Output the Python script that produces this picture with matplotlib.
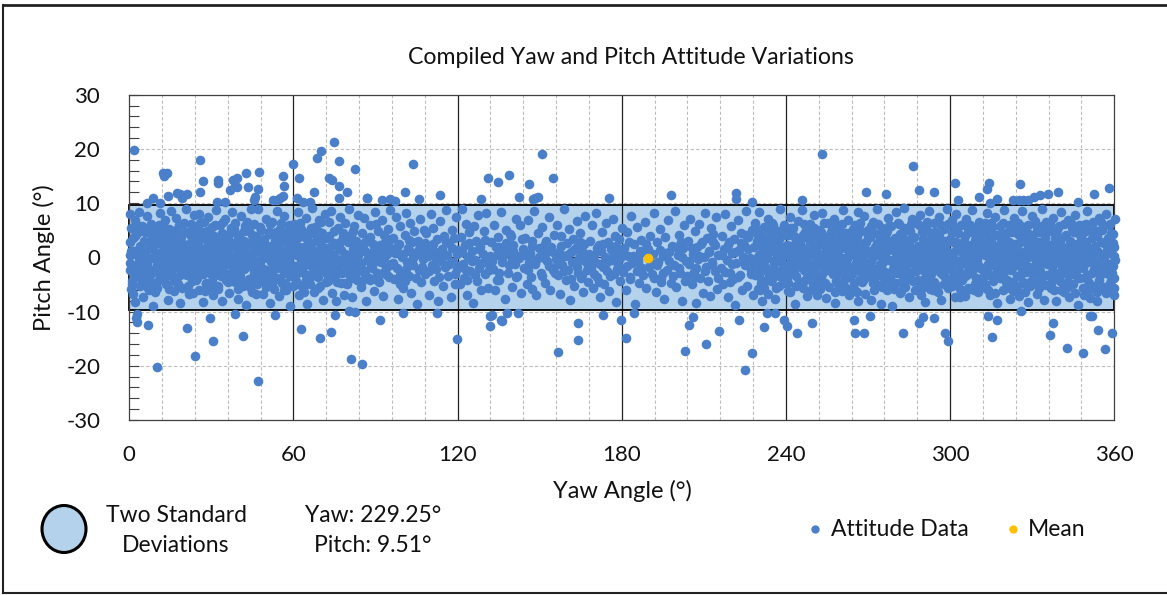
import matplotlib
matplotlib.use('Agg')
import matplotlib.pyplot as plt
from matplotlib.patches import Ellipse, Rectangle
from matplotlib.lines import Line2D

plt.rcParams['font.family'] = ['Lato', 'DejaVu Sans']
plt.rcParams['axes.unicode_minus'] = False

# ---------------- data ----------------
title = "Compiled Yaw and Pitch Attitude Variations"
x_label = "Yaw Angle (°)"
y_label = "Pitch Angle (°)"
yaw_ticks = [0, 60, 120, 180, 240, 300, 360]
yaw_minor = [12, 24, 36, 48, 72, 84, 96, 108, 132, 144, 156, 168, 192, 204, 216, 228,
             252, 264, 276, 288, 312, 324, 336, 348]
pitch_ticks = [-30, -20, -10, 0, 10, 20, 30]
pitch_minor = [-28, -26, -24, -22, -18, -16, -14, -12, -8, -6, -4, -2,
               2, 4, 6, 8, 12, 14, 16, 18, 22, 24, 26, 28]

mean_yaw = [189.7]
mean_pitch = [-0.1]
band_low = -9.8
band_high = 9.6
yaw_sd2 = "229.25"
pitch_sd2 = "9.51"

pts_000_060 = [
(0.2,8.0),(0.3,2.8),(0.1,0.4),(0.2,-2.4),(0.4,-1.0),(0.8,5.5),(1.0,-4.3),(1.3,3.6),(1.5,-6.8),(1.8,1.2),(2.0,-8.2),(2.2,6.9),(2.5,-1.8),(2.7,4.4),(3.0,-3.5),(3.2,0.3),(3.5,8.4),(3.8,-5.2),(4.0,2.1),(4.3,-0.7),(4.6,5.8),(4.9,-7.4),(5.1,-2.9),(5.4,3.1),(5.7,0.9),(6.0,-4.8),(6.3,7.6),(6.6,-1.2),(6.9,4.7),(7.2,-6.1),(7.5,1.8),(7.8,-3.0),(8.1,6.2),(8.4,-0.2),(8.7,-8.9),(9.0,3.9),(9.3,-2.2),(9.6,0.6),(9.9,5.1),(10.2,-5.6),(10.5,2.6),(10.8,-1.5),(11.1,8.1),(11.4,-3.9),(11.7,1.0),
(12.1,4.2),(12.4,-2.6),(12.7,0.2),(13.0,6.8),(13.3,-5.0),(13.6,2.9),(13.9,-0.9),(14.2,-7.8),(14.5,5.3),(14.8,1.4),(15.1,-3.3),(15.4,8.6),(15.7,-1.6),(16.0,3.5),(16.3,-6.2),(16.6,0.7),(16.9,7.3),(17.2,-4.1),(17.5,2.0),(17.8,-2.0),(18.1,5.9),(18.4,-8.5),(18.7,-0.4),(19.0,3.8),(19.3,-5.7),(19.6,1.1),(19.9,6.4),(20.2,-3.0),(20.5,0.0),(20.8,8.9),(21.1,-1.9),(21.4,4.6),(21.7,-6.8),(22.0,2.4),(22.3,-0.6),(22.6,6.1),(22.9,-4.4),(23.2,1.7),(23.5,-2.7),(23.8,7.9),(12.9,-1.1),(16.1,-0.2),(19.8,-1.3),(22.5,-1.6),(14.1,2.2),
(24.1,-1.4),(24.4,5.0),(24.7,-3.8),(25.0,2.3),(25.3,8.0),(25.6,-6.0),(25.9,0.5),(26.2,-2.1),(26.5,4.0),(26.8,-8.3),(27.1,1.6),(27.4,6.6),(27.7,-0.8),(28.0,-4.9),(28.3,3.0),(28.6,-2.5),(28.9,7.4),(29.2,0.1),(29.5,-5.4),(29.8,2.7),(30.1,-1.0),(30.4,5.6),(30.7,-7.0),(31.0,1.3),(31.3,-3.2),(31.6,8.7),(31.9,-0.3),(32.2,3.6),(32.5,-5.9),(32.8,0.9),(33.1,6.0),(33.4,-2.3),(33.7,4.5),(34.0,-8.0),(34.3,1.9),(34.6,-1.3),(34.9,7.0),(35.2,-4.2),(35.5,2.5),(35.8,-0.5),(24.8,0.8),(27.9,1.0),(30.9,-0.1),(33.8,0.4),(35.0,-2.8),
(36.1,3.3),(36.4,-6.5),(36.7,0.3),(37.0,5.4),(37.3,-2.8),(37.6,8.3),(37.9,-0.6),(38.2,2.2),(38.5,-4.6),(38.8,6.3),(39.1,-1.7),(39.4,0.8),(39.7,-7.6),(40.0,4.1),(40.3,-3.4),(40.6,1.5),(40.9,7.7),(41.2,-0.1),(41.5,-5.3),(41.8,3.0),(42.1,-2.2),(42.4,5.7),(42.7,-8.7),(43.0,0.6),(43.3,-1.1),(43.6,4.8),(43.9,-4.0),(44.2,2.6),(44.5,8.9),(44.8,-6.3),(45.1,1.0),(45.4,-2.4),(45.7,6.2),(46.0,-0.4),(46.3,3.9),(46.6,-5.0),(46.9,9.0),(47.2,-1.5),(47.5,2.0),(47.8,-3.6),(38.0,-2.9),(44.0,-0.9),
(48.1,5.1),(48.4,-1.9),(48.7,0.7),(49.0,-6.7),(49.3,3.4),(49.6,-3.1),(49.9,7.1),(50.2,1.2),(50.5,-4.5),(50.8,-0.2),(51.1,4.3),(51.4,-8.4),(51.7,2.1),(52.0,-2.6),(52.3,6.5),(52.6,0.0),(52.9,-5.8),(53.2,3.2),(53.5,-1.2),(53.8,8.5),(54.1,-3.9),(54.4,1.8),(54.7,-7.2),(55.0,5.3),(55.3,-0.7),(55.6,2.8),(55.9,-4.8),(56.2,0.4),(56.5,7.6),(56.8,-2.4),(57.1,4.0),(57.4,-6.0),(57.7,1.5),(58.0,-1.0),(58.3,5.9),(58.6,-3.5),(58.9,-8.9),(59.2,2.4),(59.5,0.9),(59.8,-5.2),
]

pts_060_120 = [
(60.1,6.1),(60.4,-1.6),(60.7,3.1),(61.0,-4.3),(61.3,0.5),(61.6,8.4),(61.9,-7.0),(62.2,2.0),(62.5,-2.2),(62.8,5.2),(63.1,-0.4),(63.4,-5.6),(63.7,3.9),(64.0,1.0),(64.3,-3.0),(64.6,7.3),(64.9,-8.6),(65.2,-1.3),(65.5,4.6),(65.8,0.2),(66.1,-4.9),(66.4,2.6),(66.7,9.1),(67.0,-2.7),(67.3,1.4),(67.6,-6.4),(67.9,5.6),(68.2,-0.9),(68.5,3.3),(68.8,-3.7),(69.1,0.8),(69.4,6.8),(69.7,-5.3),(70.0,2.2),(70.3,-1.8),(70.6,4.4),(70.9,-7.8),(71.2,0.1),(71.5,8.0),(71.8,-2.5),
(72.1,3.6),(72.4,-0.6),(72.7,-4.4),(73.0,6.6),(73.3,1.9),(73.6,-2.0),(73.9,8.6),(74.2,-6.6),(74.5,0.4),(74.8,4.9),(75.1,-3.3),(75.4,2.3),(75.7,-8.1),(76.0,-0.3),(76.3,5.4),(76.6,-1.4),(76.9,7.5),(77.2,-4.7),(77.5,1.3),(77.8,-2.9),(78.1,3.7),(78.4,-6.9),(78.7,0.6),(79.0,6.3),(79.3,-1.0),(79.6,-5.0),(79.9,2.8),(80.2,9.0),(80.5,-3.4),(80.8,0.0),(81.1,4.2),(81.4,-7.3),(81.7,1.6),(82.0,-2.1),(82.3,5.7),(82.6,-0.8),(82.9,3.1),(83.2,-4.2),(83.5,7.8),(83.8,-1.7),
(84.1,0.9),(84.5,-5.5),(84.9,4.5),(85.3,-2.3),(85.7,7.2),(86.1,1.1),(86.5,-8.0),(86.9,-0.5),(87.3,3.4),(87.7,-3.8),(88.1,6.0),(88.5,-1.6),(88.9,2.5),(89.3,-6.2),(89.7,8.3),(90.1,0.3),(90.5,-2.8),(90.9,4.9),(91.3,-4.6),(91.7,1.9),(92.1,-0.9),(92.5,6.8),(92.9,-7.2),(93.3,2.9),(93.7,-2.0),(94.1,0.6),(94.5,5.2),(94.9,-3.6),(95.3,8.8),(95.7,-1.2),(86.0,2.8),(88.0,-4.1),(90.2,6.2),(93.0,-0.2),(95.0,1.5),
(96.2,3.5),(96.6,-4.0),(97.0,0.8),(97.4,7.5),(97.8,-1.9),(98.2,-7.6),(98.6,2.4),(99.0,5.7),(99.4,-2.9),(99.8,0.1),(100.2,-5.7),(100.6,4.1),(101.0,8.2),(101.4,-0.8),(101.8,1.7),(102.2,-3.5),(102.6,6.4),(103.0,-6.5),(103.4,2.8),(103.8,-1.4),(104.2,4.8),(104.6,0.4),(105.0,-8.6),(105.4,3.0),(105.8,-2.4),(106.2,7.0),(106.6,-4.6),(107.0,1.2),(107.4,-0.3),(107.8,5.0),(99.0,-5.0),(103.0,0.9),
(108.2,-3.0),(108.6,4.4),(109.0,0.2),(109.4,-6.9),(109.8,2.0),(110.2,8.0),(110.6,-1.5),(111.0,5.5),(111.4,-4.3),(111.8,0.9),(112.2,-2.2),(112.6,3.4),(113.0,-8.0),(113.4,6.7),(113.8,-0.6),(114.2,1.6),(114.6,-5.2),(115.0,4.0),(115.4,-1.8),(115.8,8.7),(116.2,0.5),(116.6,-3.4),(117.0,2.6),(117.4,-7.4),(117.8,5.0),(118.2,-0.9),(118.6,3.6),(119.0,-4.9),(119.4,7.4),(119.8,-2.1),
]

pts_120_180 = [
(120.3,1.4),(120.7,-5.0),(121.1,3.7),(121.5,8.9),(121.9,-1.2),(122.3,-3.8),(122.7,2.3),(123.1,6.2),(123.5,-6.9),(123.9,0.0),(124.3,4.6),(124.7,-2.6),(125.1,1.1),(125.5,-8.5),(125.9,5.8),(126.3,-0.4),(126.7,3.0),(127.1,-4.4),(127.5,7.8),(127.9,-1.9),(128.3,2.0),(128.7,-6.1),(129.1,0.7),(129.5,4.9),(129.9,-3.1),(130.3,8.1),(130.7,-0.8),(131.1,-5.6),
(132.3,2.8),(132.8,-2.2),(133.3,6.0),(133.8,-6.0),(134.3,0.5),(134.8,3.7),(135.3,-4.1),(135.8,8.4),(136.3,-0.9),(136.8,1.8),(137.3,-7.7),(137.8,5.0),(138.3,-2.8),(138.8,0.9),(139.3,4.3),(139.8,-5.4),(140.3,2.2),(140.8,-1.3),(141.3,7.1),(141.8,-3.4),(142.3,0.2),(142.8,5.9),(143.3,-6.6),(143.8,1.5),(135.0,2.0),(140.0,-0.5),
(144.3,-2.0),(144.8,3.6),(145.3,-5.0),(145.8,6.8),(146.3,0.8),(146.8,-3.7),(147.3,2.1),(147.8,8.6),(148.3,-1.2),(148.8,-7.0),(149.3,4.5),(149.8,0.0),(150.3,-2.9),(150.8,5.6),(151.3,1.3),(151.8,-4.8),(152.3,3.0),(152.8,-0.7),(153.3,7.4),(153.8,-6.1),(154.3,1.9),(154.8,-2.4),(155.3,4.1),(155.8,-0.3),(147.0,-5.8),(152.0,0.6),
(156.3,6.0),(156.7,-3.2),(157.1,1.0),(157.5,-6.8),(157.9,3.9),(158.3,-1.5),(158.7,8.9),(159.1,0.3),(159.5,-4.2),(159.9,2.6),(160.3,-2.3),(160.7,5.3),(161.1,-7.9),(161.5,0.9),(161.9,-0.9),(162.3,3.4),(162.7,-5.2),(163.1,1.8),(163.5,6.7),(163.9,-2.8),(164.3,-0.2),(164.7,4.5),(165.1,-3.9),(165.5,1.2),(165.9,-6.4),(166.3,2.4),(166.7,7.6),(167.1,-1.1),(167.5,-4.6),(167.9,0.6),
(168.3,3.1),(168.7,-2.0),(169.1,5.9),(169.5,-5.6),(169.9,0.4),(170.3,-0.8),(170.7,8.2),(171.1,-3.6),(171.5,2.2),(171.9,-7.4),(172.3,1.1),(172.7,4.6),(173.1,-1.7),(173.5,-4.9),(173.9,0.0),(174.3,6.4),(174.7,-2.6),(175.1,2.9),(175.5,-6.2),(175.9,1.6),(176.3,-0.5),(176.7,7.0),(177.1,-3.1),(177.5,4.0),(177.9,-8.3),(178.3,0.8),(178.7,-1.4),(179.1,3.3),(179.5,-4.3),(179.9,5.4),
]

pts_180_240 = [
(180.4,-2.7),(180.9,1.8),(181.4,-6.0),(181.9,4.7),(182.4,0.2),(182.9,-3.6),(183.4,7.7),(183.9,-1.0),(184.4,2.5),(184.9,-8.6),(185.4,5.6),(185.9,-0.3),(186.4,-4.8),(186.9,3.2),(187.4,-2.0),(187.9,0.9),(188.4,6.6),(188.9,-5.6),(189.4,1.5),(189.9,-1.7),(190.4,4.0),(190.9,-3.0),(191.4,0.6),(191.9,8.1),
(192.4,-6.3),(192.9,2.8),(193.4,-0.9),(193.9,5.3),(194.4,-3.9),(194.9,0.2),(195.4,-7.7),(195.9,3.8),(196.4,-2.3),(196.9,6.9),(197.4,1.0),(197.9,-4.7),(198.4,2.1),(198.9,-1.4),(199.4,8.6),(199.9,-5.4),(200.4,0.5),(200.9,4.2),(201.4,-2.9),(201.9,-8.1),(202.4,1.7),(202.9,6.0),(203.4,-0.6),(203.9,-3.4),
(204.3,3.0),(204.7,-1.2),(205.1,7.0),(205.5,-5.0),(205.9,0.7),(206.3,-2.7),(206.7,4.9),(207.1,-8.4),(207.5,1.9),(207.9,-0.3),(208.3,6.2),(208.7,-3.8),(209.1,2.4),(209.5,-6.6),(209.9,0.0),(210.3,8.2),(210.7,-1.8),(211.1,3.6),(211.5,-4.4),(211.9,1.2),(212.3,-7.2),(212.7,5.5),(213.1,-0.9),(213.5,2.8),(213.9,-2.5),(214.3,7.5),(214.7,-5.8),(215.1,0.4),
(216.3,-1.9),(216.7,4.0),(217.1,-4.9),(217.5,1.6),(217.9,8.0),(218.3,-0.5),(218.7,-7.3),(219.1,2.9),(219.5,-2.8),(219.9,5.7),(220.3,0.8),(220.7,-4.0),(221.1,3.3),(221.5,-8.8),(221.9,-1.1),(222.3,6.8),(222.7,1.4),(223.1,-3.2),(223.5,4.4),(223.9,-6.0),(224.3,0.1),(224.7,2.2),(225.1,-1.5),(225.5,8.6),(225.9,-5.2),(226.3,3.7),(226.7,-0.2),(227.1,-2.4),(227.5,5.1),(227.9,-7.0),
(228.2,1.9),(228.5,-3.3),(228.8,6.3),(229.1,-0.7),(229.4,3.0),(229.7,-5.9),(230.0,0.5),(230.3,8.4),(230.6,-2.1),(230.9,4.3),(231.2,-8.1),(231.5,1.2),(231.8,-1.4),(232.1,5.6),(232.4,-4.4),(232.7,2.6),(233.0,-0.1),(233.3,7.1),(233.6,-6.8),(233.9,0.9),(234.2,-2.6),(234.5,3.9),(234.8,-4.0),(235.1,1.5),(235.4,6.0),(235.7,-1.0),(236.0,-7.6),(236.3,2.9),(236.6,-3.2),(236.9,0.3),(237.2,4.8),(237.5,-5.3),(237.8,9.0),(238.1,-0.9),(238.4,2.0),(238.7,-2.3),(239.0,5.2),(239.6,-4.8),
]

pts_240_300 = [
(240.1,0.6),(240.4,-3.9),(240.7,4.1),(241.0,-1.2),(241.3,7.4),(241.6,-6.4),(241.9,2.1),(242.2,-0.2),(242.5,5.4),(242.8,-2.8),(243.1,1.3),(243.4,-8.6),(243.7,3.2),(244.0,-1.8),(244.3,6.7),(244.6,0.1),(244.9,-4.6),(245.2,2.6),(245.5,-0.9),(245.8,8.7),(246.1,-5.6),(246.4,1.8),(246.7,-2.3),(247.0,4.6),(247.3,-0.5),(247.6,-7.1),(247.9,3.5),(248.2,0.9),(248.5,-3.4),(248.8,6.1),(249.1,-1.5),(249.4,2.3),(249.7,-5.0),(250.0,0.4),(250.3,7.9),(250.6,-2.0),(250.9,3.9),(251.2,-6.9),(251.5,1.0),(251.8,-0.6),(243.0,-0.4),(246.0,0.8),
(252.1,5.0),(252.4,-1.1),(252.7,2.4),(253.0,-4.3),(253.3,8.1),(253.6,0.3),(253.9,-2.6),(254.2,3.8),(254.5,-7.5),(254.8,1.4),(255.1,-0.4),(255.4,6.3),(255.7,-5.4),(256.0,2.0),(256.3,-1.9),(256.6,4.7),(256.9,0.7),(257.2,-3.1),(257.5,7.0),(257.8,-8.5),(258.1,1.1),(258.4,-0.8),(258.7,3.5),(259.0,-4.9),(259.3,5.9),(259.6,0.0),(259.9,-2.2),(260.2,2.9),(260.5,-6.2),(260.8,8.8),(261.1,-1.3),(261.4,1.7),(261.7,-3.6),(262.0,4.4),(262.3,-0.3),(262.6,6.8),(262.9,-7.0),(263.2,2.5),(263.5,-1.7),(263.8,0.9),(253.5,-1.5),(256.5,-0.3),(259.5,1.6),(262.5,-2.9),(255.0,2.9),
(264.1,-3.0),(264.4,3.1),(264.7,0.4),(265.0,-5.9),(265.3,6.0),(265.6,-1.0),(265.9,2.3),(266.2,-8.0),(266.5,8.3),(266.8,0.0),(267.1,-2.5),(267.4,4.9),(267.7,-4.6),(268.0,1.5),(268.3,-0.6),(268.6,7.6),(268.9,-6.7),(269.2,2.8),(269.5,-1.6),(269.8,5.0),(270.1,0.8),(270.4,-3.5),(270.7,3.7),(271.0,-7.8),(271.3,1.0),(271.6,-0.2),(271.9,6.6),(272.2,-4.0),(272.5,2.0),(272.8,-2.1),(273.1,8.9),(273.4,0.5),(273.7,-5.1),(274.0,4.2),(274.3,-1.3),(274.6,1.9),(274.9,-8.6),(275.2,5.5),(275.5,-0.8),(275.8,3.0),(265.5,1.2),(268.5,-2.0),(271.5,0.2),(274.5,-3.2),(267.0,-0.9),
(276.1,-2.7),(276.4,4.5),(276.7,0.9),(277.0,-6.1),(277.3,7.2),(277.6,-0.5),(277.9,2.4),(278.2,-3.9),(278.5,5.8),(278.8,-8.9),(279.1,1.3),(279.4,-1.6),(279.7,3.5),(280.0,-4.8),(280.3,8.4),(280.6,0.2),(280.9,-2.3),(281.2,6.1),(281.5,-6.5),(281.8,1.8),(282.1,-0.9),(282.4,4.0),(282.7,-3.3),(283.0,2.7),(283.3,9.1),(283.6,-5.5),(283.9,0.6),(284.2,-1.1),(284.5,5.1),(284.8,-7.4),(285.1,3.2),(285.4,-0.1),(285.7,-2.9),(286.0,7.0),(286.3,1.5),(286.6,-4.4),(286.9,3.8),(287.2,-1.9),(287.5,0.4),(287.8,6.4),(277.5,1.7),(280.5,-0.7),(283.5,-2.0),(286.5,0.8),(279.0,2.9),
(288.1,-4.2),(288.4,2.1),(288.7,-0.4),(289.0,7.8),(289.3,-6.9),(289.6,1.1),(289.9,4.6),(290.2,-2.4),(290.5,0.3),(290.8,-8.2),(291.1,5.7),(291.4,-1.2),(291.7,2.9),(292.0,-4.6),(292.3,8.6),(292.6,0.9),(292.9,-3.0),(293.2,3.6),(293.5,-0.8),(293.8,-6.0),(294.1,6.3),(294.4,1.7),(294.7,-1.8),(295.0,4.2),(295.3,-5.2),(295.6,0.0),(295.9,7.4),(296.2,-2.7),(296.5,2.4),(296.8,-7.8),(297.1,1.0),(297.4,-0.6),(297.7,5.3),(298.0,-3.7),(298.3,3.1),(298.6,-1.4),(298.9,8.9),(299.2,-5.7),(299.5,0.6),(299.8,-2.1),(289.5,-1.9),(292.5,-0.1),(295.5,2.9),(298.5,1.4),(291.0,1.6),
]

pts_300_360 = [
(300.1,3.4),(300.4,-1.5),(300.7,6.9),(301.0,0.2),(301.3,-3.4),(301.6,2.6),(301.9,-7.3),(302.2,8.0),(302.5,-0.7),(302.8,4.4),(303.1,-2.6),(303.4,1.3),(303.7,-7.3),(304.0,5.9),(304.3,-4.1),(304.6,0.7),(304.9,3.0),(305.2,-1.1),(305.5,-7.2),(305.8,7.1),(306.1,1.9),(306.4,-3.1),(306.7,4.8),(307.0,-0.2),(307.3,-5.8),(307.6,2.2),(307.9,8.7),(308.2,-2.0),(308.5,0.5),(308.8,5.4),(309.1,-4.9),(309.4,1.4),(309.7,-0.9),(310.0,3.8),(310.3,-6.4),(310.6,6.6),(310.9,-1.7),(311.2,0.9),(311.5,-3.8),(311.8,2.9),(301.5,0.9),(304.5,-1.0),(307.5,-0.5),(310.5,1.6),(303.0,-3.9),
(312.1,-2.4),(312.4,5.1),(312.7,0.4),(313.0,-5.6),(313.3,8.2),(313.6,1.8),(313.9,-1.3),(314.2,3.4),(314.5,-7.0),(314.8,6.3),(315.1,-0.3),(315.4,2.5),(315.7,-4.3),(316.0,0.9),(316.3,7.5),(316.6,-2.9),(316.9,4.1),(317.2,-8.5),(317.5,1.2),(317.8,-1.0),(318.1,5.7),(318.4,-3.8),(318.7,2.8),(319.0,0.0),(319.3,-6.1),(319.6,8.8),(319.9,-1.8),(320.2,3.7),(320.5,-4.5),(320.8,1.5),(321.1,-0.6),(321.4,6.0),(321.7,-7.6),(322.0,2.2),(322.3,-2.3),(322.6,4.6),(322.9,0.6),(323.2,-5.0),(323.5,7.2),(323.8,-1.4),(313.5,-1.9),(316.5,0.2),(319.5,2.0),(322.5,-0.8),(315.0,-3.3),
(324.1,2.0),(324.4,-3.5),(324.7,6.4),(325.0,0.6),(325.3,-7.1),(325.6,3.9),(325.9,-1.2),(326.2,8.5),(326.5,-4.6),(326.8,1.0),(327.1,-0.5),(327.4,5.2),(327.7,-2.7),(328.0,2.7),(328.3,-8.3),(328.6,0.1),(328.9,4.3),(329.2,-5.3),(329.5,1.6),(329.8,7.7),(330.1,-1.9),(330.4,3.3),(330.7,-3.0),(331.0,-0.2),(331.3,5.9),(331.6,-6.7),(331.9,1.2),(332.2,-2.1),(332.5,4.7),(332.8,0.5),(333.1,-4.2),(333.4,8.9),(333.7,2.4),(334.0,-1.1),(334.3,-7.8),(334.6,3.6),(334.9,-0.7),(335.2,6.5),(335.5,-3.3),(335.8,1.9),(325.5,-1.6),(328.5,2.0),(331.5,-0.8),(334.5,0.8),(327.0,-2.1),
(336.1,-0.2),(336.4,4.9),(336.7,-5.7),(337.0,2.2),(337.3,-1.6),(337.6,7.3),(337.9,0.9),(338.2,-3.6),(338.5,3.5),(338.8,-8.0),(339.1,1.4),(339.4,-0.9),(339.7,5.8),(340.0,-4.4),(340.3,2.6),(340.6,8.3),(340.9,-2.2),(341.2,0.3),(341.5,-6.3),(341.8,4.0),(342.1,-1.0),(342.4,1.8),(342.7,-3.1),(343.0,6.8),(343.3,-7.3),(343.6,0.7),(343.9,3.0),(344.2,-1.7),(344.5,5.4),(344.8,-5.0),(345.1,1.1),(345.4,-0.4),(345.7,7.9),(346.0,-2.6),(346.3,2.4),(346.6,-8.8),(346.9,4.5),(347.2,0.0),(347.5,-3.9),(347.8,1.6),(337.5,-2.5),(340.5,-0.6),(343.5,2.0),(346.5,-1.2),(339.0,0.4),
(348.1,3.2),(348.4,-2.0),(348.7,6.0),(349.0,-6.9),(349.3,0.6),(349.6,2.9),(349.9,-4.0),(350.2,8.6),(350.5,-0.9),(350.8,1.7),(351.1,-7.5),(351.4,4.8),(351.7,-2.8),(352.0,0.2),(352.3,6.6),(352.6,-5.2),(352.9,2.1),(353.2,-1.4),(353.5,3.9),(353.8,-8.1),(354.1,1.0),(354.4,7.2),(354.7,-3.3),(355.0,0.4),(355.3,-5.9),(355.6,5.0),(355.9,-0.6),(356.2,2.6),(356.5,-2.4),(356.8,8.0),(357.1,-6.6),(357.4,1.3),(357.7,3.5),(358.0,-1.2),(358.3,-4.7),(358.6,6.2),(358.9,0.8),(359.2,-2.9),(359.5,4.3),(359.8,-7.0),(360.0,1.9),(360.1,-0.5),(360.2,7.0),(360.0,-3.8),(359.9,-5.6),
]

core_000_090 = [
(0.5,1.2),(1.2,-2.9),(2.1,3.9),(3.4,-0.8),(4.1,1.8),(5.0,-3.8),(5.8,4.6),(6.5,-1.9),(7.3,2.9),(8.0,-4.5),(8.9,0.2),(9.7,-2.6),(10.6,3.3),(11.3,-0.9),(0.9,-4.9),(1.9,0.8),(3.9,4.8),(4.7,-2.1),(6.2,0.0),(7.1,-3.4),(8.6,1.9),(9.3,4.1),(10.1,-1.4),(11.0,-4.2),(11.8,2.4),
(12.3,0.9),(13.2,-3.7),(14.0,4.2),(14.9,-1.0),(15.6,2.6),(16.5,-4.4),(17.3,0.4),(18.0,3.1),(18.9,-2.4),(19.5,-0.5),(20.3,4.7),(21.2,-3.2),(22.1,1.5),(22.8,-0.1),(23.6,3.6),(12.8,-1.9),(13.9,2.1),(15.2,-2.7),(16.8,1.8),(17.9,-4.9),(19.2,2.6),(20.9,-1.4),(21.8,0.7),(23.1,-4.1),(23.9,-2.2),
(24.6,2.0),(25.4,-0.6),(26.3,3.5),(27.0,-3.1),(27.9,-1.5),(28.7,1.2),(29.6,4.3),(30.3,-4.3),(31.2,2.4),(32.0,-2.0),(32.9,0.3),(33.6,-3.5),(34.5,3.0),(35.3,1.1),(35.9,-4.6),(24.3,-4.2),(25.8,4.9),(26.7,0.9),(28.2,-4.8),(29.9,-1.8),(30.8,3.9),(31.7,-0.7),(33.2,1.9),(34.1,-1.6),(35.6,4.0),
(36.3,-1.3),(37.2,2.7),(38.1,-3.9),(38.9,0.5),(39.8,3.6),(40.4,-2.0),(41.3,1.0),(42.2,-4.7),(43.1,2.3),(43.8,-0.3),(44.7,4.1),(45.6,-2.9),(46.4,1.6),(47.3,-1.0),(47.9,3.2),(36.8,4.4),(37.8,-2.5),(39.3,-4.6),(40.8,2.9),(42.6,-1.7),(44.3,0.1),(45.2,-4.0),(46.8,-3.3),(47.6,0.9),(41.9,4.9),
(48.3,-0.4),(49.2,2.9),(50.0,-2.3),(50.9,4.6),(51.6,-3.6),(52.5,1.4),(53.3,-1.6),(54.2,3.3),(55.1,-4.2),(55.8,0.8),(56.7,-2.9),(57.5,2.6),(58.4,-0.2),(59.3,4.2),(59.9,-3.0),(48.8,-4.4),(50.4,0.5),(51.9,-0.9),(53.7,4.7),(54.9,-2.0),(56.0,3.9),(57.0,-4.8),(58.1,1.9),(59.0,-1.4),(52.2,-4.9),
(60.3,0.7),(61.2,-2.8),(62.0,3.8),(62.9,-0.6),(63.8,2.0),(64.5,-4.1),(65.3,1.2),(66.2,-1.5),(67.1,4.4),(67.8,-3.3),(68.6,0.3),(69.5,2.8),(70.3,-2.4),(71.0,1.7),(71.9,-4.6),(60.8,4.7),(61.7,-4.9),(63.3,-2.2),(64.9,3.3),(66.6,-0.2),(68.0,-1.8),(69.0,4.9),(70.6,-0.8),(71.4,3.6),(65.9,-3.7),
(72.3,-3.0),(73.2,0.8),(74.0,-1.2),(74.9,2.7),(75.8,-4.5),(76.5,1.5),(77.4,-0.4),(78.2,4.4),(79.1,-2.6),(79.8,0.2),(80.7,3.2),(81.5,-3.9),(82.4,1.0),(83.1,-1.6),(83.9,2.3),(72.9,4.0),(74.4,-3.6),(75.2,-1.9),(77.0,2.9),(78.8,-4.8),(80.1,-1.1),(81.9,4.8),(82.8,-2.9),(83.5,0.5),(76.2,-2.7),
(84.6,-1.1),(85.5,2.2),(86.3,-3.1),(87.1,0.6),(88.0,3.7),(88.7,-2.0),(89.4,1.4),(85.0,-4.3),(87.8,-0.4),(89.9,-4.0),
]

core_090_228 = [
(90.6,-0.6),(91.5,2.3),(92.8,-2.9),(93.9,1.0),(95.2,-1.5),(95.8,3.4),(91.0,-4.1),(92.2,0.4),(94.3,-3.3),(94.8,2.0),(93.2,4.2),(90.9,1.6),
(96.5,-1.1),(97.7,2.0),(98.9,-3.3),(100.0,0.7),(101.1,-2.2),(102.4,3.2),(103.6,-0.2),(104.9,-3.9),(106.0,1.5),(107.1,-1.8),(107.9,2.6),(100.7,-4.4),
(108.5,0.9),(109.7,-2.6),(110.9,2.4),(112.0,-0.4),(113.2,-3.7),(114.4,0.3),(115.6,2.9),(116.8,-1.2),(117.9,1.8),(118.9,-3.0),(119.6,0.6),(111.3,-1.9),
(120.5,-1.6),(121.7,0.9),(122.9,-2.4),(124.1,2.7),(125.3,-0.7),(126.5,-3.2),(127.7,1.6),(128.9,-1.1),(130.1,3.2),(131.3,-2.3),(131.8,0.2),(123.3,-4.1),
(132.6,-0.6),(133.9,1.9),(135.1,-2.8),(136.5,0.3),(137.6,2.7),(138.9,-1.5),(140.1,1.1),(141.2,-3.7),(142.5,-0.2),(143.6,3.3),(134.5,-4.2),(139.5,3.9),
(144.6,0.4),(145.9,-2.3),(147.1,3.1),(148.5,-0.5),(149.6,1.8),(150.9,-3.4),(152.1,2.5),(153.5,-1.6),(154.7,0.9),(155.5,-2.9),(146.2,-0.9),(151.6,-0.1),
(156.5,-1.3),(157.7,2.1),(159.0,-2.6),(160.1,0.5),(161.3,-4.0),(162.5,1.4),(163.7,-1.8),(164.9,2.8),(166.0,-0.5),(167.2,-2.4),(158.2,0.1),(165.6,-3.3),
(168.5,-0.2),(169.7,-3.1),(170.9,1.8),(172.1,-1.2),(173.3,2.5),(174.5,-0.8),(175.7,-3.5),(176.9,1.0),(178.1,-2.2),(179.3,-0.1),(171.5,-4.5),(177.7,2.1),
(180.7,0.7),(181.9,-1.6),(183.1,-4.0),(184.2,0.3),(185.5,-2.5),(186.6,1.1),(187.8,-3.3),(188.9,2.4),(190.5,-1.0),(191.6,-3.9),(182.6,2.9),(186.1,-0.9),
(192.7,-1.5),(193.8,1.4),(195.0,-2.9),(196.2,0.8),(197.3,-0.6),(198.6,-3.5),(199.7,1.9),(200.8,-1.9),(202.0,0.0),(203.2,-4.4),(194.4,-4.6),(201.5,2.9),
(204.5,-0.7),(205.7,1.8),(206.9,-3.6),(208.1,0.2),(209.3,2.9),(210.5,-2.6),(211.7,0.9),(212.9,-1.3),(214.1,2.2),(215.3,-3.9),(207.2,-1.9),(213.3,4.3),
(216.5,0.5),(217.7,-2.7),(218.9,2.3),(220.1,-1.2),(221.3,1.0),(222.5,-3.7),(223.7,2.7),(224.9,-0.9),(226.1,1.6),(227.3,-3.0),(219.5,-4.5),(225.3,4.1),
]

core_228_360 = [
(228.4,-1.0),(229.3,2.3),(230.1,-3.4),(231.0,0.7),(231.9,3.6),(232.8,-1.9),(233.5,1.5),(234.4,-4.3),(235.3,2.7),(236.1,-0.4),(237.0,-2.8),(237.9,1.0),(238.8,4.1),(239.4,-1.7),(239.9,0.4),(228.9,4.4),(230.7,-4.8),(232.3,-0.3),(234.0,4.8),(235.8,-2.1),(236.8,1.8),(238.3,-3.6),(229.8,0.1),(233.2,-2.6),(237.4,3.3),
(240.3,2.2),(241.2,-2.6),(242.0,0.6),(242.9,3.9),(243.8,-3.4),(244.5,1.4),(245.4,-1.3),(246.3,4.2),(247.1,-4.1),(248.0,-0.2),(248.9,2.8),(249.8,-2.4),(250.5,1.3),(251.4,-0.9),(251.9,3.4),(240.9,-4.7),(242.4,-1.5),(244.1,2.9),(245.9,-4.9),(247.6,1.0),(249.3,4.8),(250.9,-3.7),(243.3,0.3),(246.8,-2.0),(251.1,4.6),
(252.3,0.3),(253.2,-3.0),(254.1,2.6),(254.9,-1.0),(255.8,4.0),(256.7,-2.6),(257.6,0.8),(258.3,-4.4),(259.2,2.2),(260.0,-0.6),(260.9,3.5),(261.8,-2.0),(262.7,1.3),(263.4,-3.6),(263.9,4.6),(252.8,4.6),(254.4,-4.8),(256.2,1.6),(257.9,-1.4),(259.8,4.8),(261.3,-4.1),(262.2,0.0),(255.4,-0.2),(258.9,-2.9),(263.0,2.7),
(264.3,1.5),(265.2,-1.8),(266.1,3.8),(266.9,-4.0),(267.8,0.4),(268.7,2.6),(269.5,-2.9),(270.3,1.1),(271.2,-0.7),(272.1,4.4),(273.0,-3.4),(273.8,0.9),(274.7,-1.6),(275.5,2.8),(275.9,-4.6),(264.8,-4.8),(266.5,-0.1),(268.2,-2.2),(269.9,4.0),(271.8,-4.8),(273.3,2.6),(274.9,0.2),(267.3,2.0),(270.8,-1.2),(272.6,-2.3),
(276.3,0.9),(277.1,-3.5),(278.0,3.0),(278.9,-0.7),(279.8,1.7),(280.7,-2.9),(281.5,4.3),(282.4,-1.5),(283.3,0.4),(284.0,-4.1),(284.9,2.5),(285.8,-0.4),(286.6,3.6),(287.4,-2.5),(287.9,1.2),(276.8,4.9),(278.5,-4.9),(280.2,0.0),(282.0,2.6),(283.7,-2.7),(285.3,4.8),(286.9,-1.4),(279.3,-2.1),(281.9,-4.6),(284.6,1.1),
(288.3,1.6),(289.2,-1.3),(290.1,3.4),(290.9,-3.9),(291.8,0.2),(292.7,2.4),(293.6,-2.2),(294.3,0.9),(295.2,-0.5),(296.1,4.1),(296.9,-3.1),(297.8,1.3),(298.7,-1.7),(299.4,2.9),(299.9,-4.3),(288.9,-4.8),(290.6,-0.6),(292.2,4.6),(294.0,-4.5),(295.7,1.8),(297.4,-2.3),(298.9,0.1),(291.3,2.1),(293.9,3.7),(296.5,-0.9),
(300.3,0.5),(301.2,-2.3),(302.1,2.9),(302.9,-0.8),(303.8,1.6),(304.7,-3.0),(305.6,3.9),(306.3,-1.4),(307.2,0.7),(308.1,-2.6),(309.0,3.2),(309.8,-0.3),(310.7,1.9),(311.4,-4.2),(311.9,4.4),(300.8,4.5),(302.6,-4.4),(304.2,-0.5),(305.9,1.2),(307.8,4.7),(309.3,-3.9),(310.9,-1.9),(303.3,2.4),(306.8,-2.0),(308.6,0.2),
(312.3,1.4),(313.2,-3.3),(314.0,0.2),(314.9,2.8),(315.8,-1.5),(316.7,4.2),(317.6,-2.6),(318.3,0.6),(319.2,-0.9),(320.1,3.3),(320.9,-4.2),(321.8,1.1),(322.7,-2.0),(323.4,2.4),(323.9,-0.5),(312.8,-4.9),(314.4,4.7),(316.1,-3.9),(317.9,2.0),(319.6,-2.7),(321.2,4.6),(322.2,-4.6),(315.5,1.0),(318.8,4.4),(320.6,-0.2),
(324.3,-0.8),(325.2,2.6),(326.0,-3.1),(326.9,0.3),(327.8,3.8),(328.7,-1.8),(329.6,1.4),(330.3,-4.5),(331.2,2.3),(332.1,-0.1),(333.0,-2.6),(333.8,1.8),(334.7,4.4),(335.5,-1.3),(335.9,0.9),(324.8,4.3),(326.5,-4.8),(328.2,0.5),(329.9,-2.9),(331.8,4.8),(333.3,-4.2),(334.9,2.7),(327.3,-1.0),(330.8,0.0),(332.6,2.9),
(336.3,2.1),(337.2,-2.7),(338.1,0.6),(338.9,3.9),(339.8,-3.7),(340.7,1.2),(341.6,-1.2),(342.3,4.1),(343.2,-4.5),(344.1,0.0),(344.9,2.4),(345.8,-2.1),(346.7,1.4),(347.4,-0.8),(347.9,3.4),(336.8,-4.7),(338.5,-1.1),(340.2,2.7),(341.9,-4.9),(343.7,1.8),(345.3,4.6),(346.9,-3.8),(339.3,0.2),(342.8,-0.6),(344.6,-3.0),
(348.3,-1.1),(349.2,2.2),(350.1,-3.2),(350.9,0.4),(351.8,3.6),(352.7,-2.2),(353.6,1.2),(354.3,-4.1),(355.2,2.8),(356.1,-0.3),(356.9,-2.9),(357.8,1.6),(358.7,4.5),(359.4,-1.6),(359.9,0.2),(348.8,4.6),(350.6,-4.8),(352.2,-0.5),(353.9,4.9),(355.7,-2.1),(357.3,0.8),(358.9,-3.7),(349.7,0.9),(354.8,-0.8),(357.6,3.0),
]

shoulder_dense = [
(0.6,-5.8),(2.4,6.1),(3.7,-1.4),(5.3,5.2),(6.8,-5.6),(8.3,3.5),(9.5,-6.4),(10.8,6.0),(11.5,-0.2),(4.4,-4.0),
(12.6,5.6),(14.4,-5.9),(15.9,0.1),(17.0,5.1),(18.6,-3.3),(20.0,1.9),(21.5,-5.3),(22.7,3.9),(23.4,-6.6),(16.2,-1.2),
(24.9,-2.5),(26.0,6.3),(27.5,-6.2),(29.0,2.0),(30.0,-3.0),(31.5,5.9),(32.6,-5.2),(34.2,6.5),(35.4,-3.1),(28.5,4.9),
(36.5,1.7),(38.4,5.3),(39.9,-5.8),(41.0,-0.6),(42.9,6.6),(44.0,-5.5),(45.0,3.0),(46.2,-6.8),(47.7,5.6),(40.2,0.2),
(48.6,2.3),(49.8,-5.4),(51.3,6.1),(52.8,-2.1),(54.0,0.3),(55.4,6.3),(56.4,-6.1),(57.9,4.8),(59.5,-2.6),(53.0,-4.0),
(60.6,-3.5),(62.3,6.4),(63.9,-6.3),(65.0,-0.4),(66.3,5.5),(67.5,1.2),(68.9,-5.7),(70.2,6.6),(71.6,-1.2),(62.6,1.1),
(228.6,5.4),(230.4,-6.1),(231.7,2.4),(233.8,-3.2),(235.0,6.3),(236.4,-5.7),(237.7,0.6),(239.2,6.0),(239.8,-3.2),(232.0,-5.6),
(240.6,-6.2),(241.8,5.5),(243.5,-5.3),(244.8,0.7),(246.5,6.2),(247.8,-2.9),(249.0,-6.0),(250.2,5.5),(251.6,-4.9),(245.1,3.6),
(252.5,-5.8),(253.8,6.3),(255.2,-2.4),(256.8,5.6),(258.0,-6.3),(259.4,-0.9),(260.6,6.1),(261.9,-5.6),(263.3,3.3),(257.1,2.4),
(264.5,5.3),(265.8,-6.4),(267.2,6.4),(268.4,-4.0),(269.6,0.9),(271.1,5.8),(272.3,-6.0),(273.6,6.2),(275.1,-5.4),(270.0,-3.0),
(276.5,-5.6),(277.8,5.7),(279.5,-5.8),(280.8,6.4),(282.2,-6.2),(283.1,5.4),(284.4,-3.4),(285.6,6.2),(287.0,-6.0),(281.0,-1.0),
(288.5,5.9),(289.8,-5.6),(291.5,6.5),(292.8,-5.9),(294.6,4.6),(295.4,-6.4),(296.7,5.9),(297.9,-5.0),(299.3,6.1),(290.3,-2.2),
(300.5,-5.2),(301.8,5.6),(303.5,-5.9),(305.0,6.2),(306.6,-5.6),(307.4,5.9),(308.9,-6.1),(310.1,5.3),(311.6,-5.4),(305.4,-3.5),
(312.6,6.3),(313.8,-6.0),(315.3,5.6),(316.4,-6.5),(318.0,-0.2),(319.4,6.3),(320.4,-5.6),(321.6,2.9),(322.8,-6.2),(323.7,5.7),
(324.6,-5.9),(325.8,5.7),(327.2,-6.3),(328.4,6.0),(329.7,-4.4),(331.1,6.7),(332.4,-5.6),(333.6,5.8),(335.0,-5.1),(330.5,1.7),
(336.6,6.2),(337.8,-6.1),(339.0,5.1),(340.4,-6.0),(341.7,6.1),(343.1,-5.4),(344.3,6.4),(345.6,-6.5),(347.1,5.9),(341.0,-2.9),
(348.6,-5.7),(349.8,6.2),(351.2,-5.8),(352.5,5.1),(353.7,-6.3),(355.1,6.5),(356.3,-5.4),(357.9,5.9),(359.1,-6.0),(359.7,2.7),
]

pts_high = [
(1.7,19.8),(12.4,15.5),(13.6,15.5),(12.6,15.0),(25.8,17.9),(27.1,14.0),(25.8,12.1),(32.5,14.3),(32.6,13.7),(38.0,14.3),(39.2,14.7),(38.6,13.2),(39.5,12.9),(36.8,12.4),(42.6,15.5),(43.5,12.9),(47.5,15.8),(47.2,12.6),(46.0,11.2),(45.5,10.6),(56.1,15.0),(56.4,13.2),(56.2,11.4),(59.7,17.3),(62.2,14.7),(67.5,12.1),(68.7,18.4),(70.1,19.6),(74.9,21.2),(76.5,17.7),(73.1,14.6),(74.1,14.3),(76.5,13.1),(76.5,10.9),(79.4,12.1),(82.6,16.3),(86.8,10.9),(8.8,10.9),(14.3,11.3),(17.3,11.8),(18.5,11.6),(21.0,11.7),(19.1,10.9),(6.4,10.0),(11.2,10.0),(31.9,10.3),(35.0,10.3),(52.6,10.6),(53.9,10.6),(55.1,10.9),(61.2,10.9),(63.6,10.3),(66.0,10.3),
(87.0,10.9),(92.5,10.5),(95.3,10.8),(97.1,10.4),(100.8,12.1),(103.6,17.2),(105.9,10.8),(113.4,11.5),(128.6,10.8),(131.0,14.7),(134.6,13.9),(138.8,15.1),(142.4,11.1),(146.0,13.6),(147.6,10.8),(148.4,10.9),(149.2,11.1),(150.7,19.0),(154.8,14.7),(175.4,10.9),
(198.0,11.5),(221.7,11.9),(221.7,10.8),(227.5,10.3),(253.2,19.0),(246.0,10.5),
(269.1,12.0),(276.6,11.6),(286.3,16.9),(288.8,12.4),(294.1,12.0),(301.8,13.7),(303.0,10.6),(310.4,11.1),(313.4,12.6),(314.3,13.8),(314.6,10.1),(317.1,10.8),(325.6,13.6),(323.1,10.6),(325.0,10.6),(326.8,10.6),(328.6,10.6),(330.6,11.1),(332.9,11.5),(335.7,11.7),(339.3,12.0),(346.9,10.2),(352.5,11.7),(357.9,12.7),
]

pts_low = [
(2.7,-10.4),(2.5,-11.1),(2.9,-12.0),(6.7,-12.5),(10.0,-20.2),(21.0,-13.0),(23.9,-18.2),(29.5,-11.1),(30.5,-15.4),(38.6,-10.4),(41.4,-14.5),(47.2,-22.8),(53.3,-10.6),(62.8,-13.3),(69.7,-14.9),(73.7,-13.8),(75.2,-10.6),(80.2,-9.9),(82.5,-10.0),(81.0,-18.8),(85.2,-19.6),
(91.7,-11.6),(100.1,-10.2),(112.6,-10.2),(119.9,-15.1),(131.8,-10.9),(131.8,-12.7),(132.4,-10.6),(135.9,-11.5),(136.1,-11.7),(137.9,-10.3),(141.9,-10.3),(156.6,-17.5),(164.1,-12.1),(164.1,-15.2),(173.0,-10.7),
(179.6,-11.6),(181.6,-14.8),(184.5,-10.3),(205.9,-11.0),(204.6,-12.4),(203.0,-17.3),(210.7,-15.9),(215.6,-13.6),(223.0,-11.6),(227.5,-17.7),(225.1,-20.7),(232.0,-12.8),(233.0,-10.2),(236.0,-10.3),(239.3,-11.6),(240.3,-12.7),(243.9,-14.0),(249.5,-12.2),(264.9,-11.6),(265.2,-14.0),(268.5,-14.0),(270.7,-10.8),(282.7,-14.0),(288.8,-12.2),(290.0,-11.0),(294.1,-11.2),(298.1,-14.0),(299.1,-15.4),(314.0,-10.9),(317.0,-11.6),(315.2,-14.6),(326.0,-9.9),(337.5,-12.2),(336.6,-14.3),(342.7,-16.7),(348.4,-17.7),(351.0,-10.9),(351.9,-10.9),(354.2,-13.4),(356.6,-16.9),(359.0,-14.0),
]

all_pts = (pts_000_060 + pts_060_120 + pts_120_180 + pts_180_240 + pts_240_300 + pts_300_360
           + core_000_090 + core_090_228 + core_228_360 + shoulder_dense + pts_high + pts_low)
yaw = [p[0] for p in all_pts]
pitch = [p[1] for p in all_pts]

# ---------------- styling ----------------
W, H = 1167, 595
BLUE = '#4a7fca'
FILL = '#b4d2eb'
GOLD = '#ffc000'
TXT = '#111111'

fig = plt.figure(figsize=(W / 100, H / 100), dpi=100)
fig.patch.set_facecolor('white')

def fx(px):
    return px / W

def fy(py):
    return 1 - py / H

ax = fig.add_axes([fx(129.3), fy(420), fx(1114.3) - fx(129.3), fy(94.7) - fy(420)])
ax.set_xlim(yaw_ticks[0], yaw_ticks[-1])
ax.set_ylim(pitch_ticks[0], pitch_ticks[-1])

ax.set_xticks(yaw_ticks)
ax.set_xticks(yaw_minor, minor=True)
ax.set_yticks(pitch_ticks)
ax.set_yticks(pitch_minor, minor=True)

ax.tick_params(axis='x', which='both', length=0, labelsize=16, pad=18, colors=TXT)
ax.tick_params(axis='y', which='both', direction='in', length=7, width=0.8,
               color='#404040', labelsize=16, pad=21, labelcolor=TXT)

# grids
for v in yaw_minor:
    ax.axvline(v, color='#bdbdbd', lw=0.8, ls=(0, (3, 2)), zorder=0.5)
for v in pitch_ticks:
    ax.axhline(v, color='#bdbdbd', lw=0.8, ls=(0, (3, 2)), zorder=0.5)

# two standard deviation band
ax.add_patch(Rectangle((yaw_ticks[0], band_low), yaw_ticks[-1] - yaw_ticks[0], band_high - band_low,
                       facecolor=FILL, edgecolor='none', zorder=1))
for v in yaw_ticks[1:-1]:
    ax.axvline(v, color='#222222', lw=0.9, zorder=1.5)
ax.axhline(0, color='#333333', lw=0.8, ls=(0, (6, 6)), zorder=1.5)
ax.add_patch(Rectangle((yaw_ticks[0], band_low), yaw_ticks[-1] - yaw_ticks[0], band_high - band_low,
                       facecolor='none', edgecolor='black', lw=1.3, zorder=2, clip_on=False))

ax.scatter(yaw, pitch, s=48, color=BLUE, linewidths=0, zorder=3, clip_on=False)
ax.scatter(mean_yaw, mean_pitch, s=48, color=GOLD, linewidths=0, zorder=4)

for sp in ax.spines.values():
    sp.set_color('#404040')
    sp.set_linewidth(0.9)

# titles
fig.text(fx(631), fy(57), title, ha='center', va='center', fontsize=16.7, color=TXT)
fig.text(fx(622), fy(491), x_label, ha='center', va='center', fontsize=17, color=TXT)
fig.text(fx(44), fy(258), y_label, ha='center', va='center', rotation=90, fontsize=17, color=TXT)

# legend area
fig.add_artist(Ellipse((fx(64), fy(529)), width=44 / W, height=47 / H, transform=fig.transFigure,
                       facecolor=FILL, edgecolor='black', lw=2.2))
fig.text(fx(176), fy(515), 'Two Standard', ha='center', va='center', fontsize=16.5, color=TXT)
fig.text(fx(176), fy(545), 'Deviations', ha='center', va='center', fontsize=16.5, color=TXT)
fig.text(fx(373), fy(515), f'Yaw: {yaw_sd2}°', ha='center', va='center', fontsize=16.5, color=TXT)
fig.text(fx(373), fy(545), f'Pitch: {pitch_sd2}°', ha='center', va='center', fontsize=16.5, color=TXT)

fig.add_artist(Line2D([fx(815)], [fy(529)], marker='o', ms=5, color=BLUE, lw=0, transform=fig.transFigure))
fig.text(fx(831), fy(529), 'Attitude Data', ha='left', va='center', fontsize=16.5, color=TXT)
fig.add_artist(Line2D([fx(1013)], [fy(529)], marker='o', ms=5, color=GOLD, lw=0, transform=fig.transFigure))
fig.text(fx(1028), fy(529), 'Mean', ha='left', va='center', fontsize=16.5, color=TXT)

# outer frame
fig.add_artist(Line2D([fx(3), fx(3)], [fy(5), fy(593)], color='#222222', lw=1.5, transform=fig.transFigure))
fig.add_artist(Line2D([fx(3), fx(1167)], [fy(5), fy(5)], color='#222222', lw=2.0, transform=fig.transFigure))
fig.add_artist(Line2D([fx(3), fx(1167)], [fy(593), fy(593)], color='#222222', lw=1.5, transform=fig.transFigure))

fig.savefig('out.png', dpi=100)
